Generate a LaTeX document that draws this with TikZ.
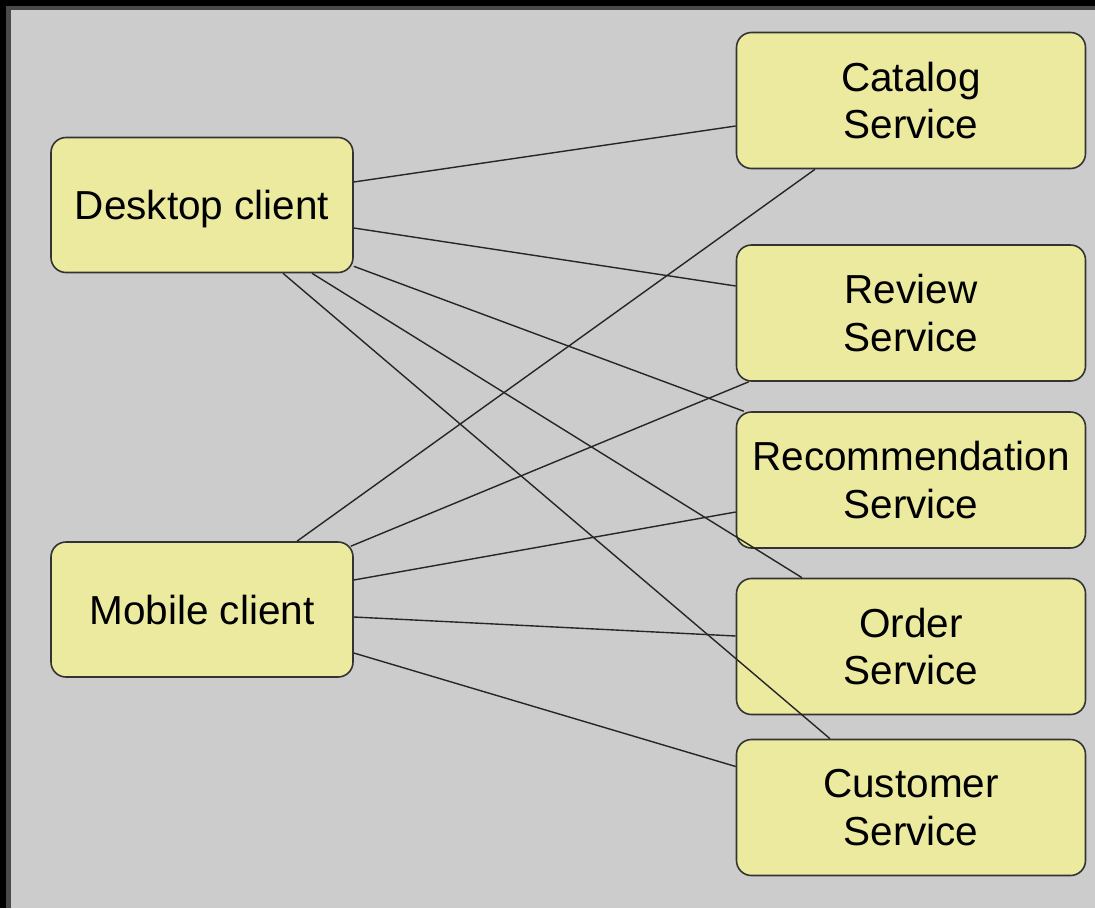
\documentclass[tikz,border=0pt]{standalone}
\usepackage{fontspec}
\setmainfont{Liberation Sans}
\begin{document}
\begin{tikzpicture}[x=1pt,y=-1pt,
  box/.style={draw=black!80, line width=1.6pt, fill=boxfill, rounded corners=15pt,
    align=center, inner sep=0pt,
    font=\fontsize{40.5}{47.5}\selectfont},
  client/.style={box, minimum width=302pt, minimum height=135pt,
    text height=29pt, text depth=0pt},
  service/.style={box, minimum width=349pt, minimum height=136pt},
  link/.style={draw=black!85, line width=1.4pt}]
\definecolor{boxfill}{HTML}{EBEA9E}
\definecolor{panel}{HTML}{CCCCCC}
\definecolor{rim}{HTML}{4A4A4A}
\useasboundingbox (0,0) rectangle (1095,908);
% window frame and panel
\fill[black] (0,0) rectangle (1095,908);
\fill[rim] (6,6) rectangle (1095,908);
\fill[panel] (11,10) rectangle (1095,908);

% clients
\node[client] (desk) at (202,205) {Desktop client};
\node[client] (mob)  at (202,609.5) {Mobile client};

% services
\node[service] (cat)  at (911,100.5) {Catalog\\Service};
\node[service] (rev)  at (911,313)   {Review\\Service};
\node[service] (rec)  at (911,480)   {Recommendation\\Service};
\node[service] (ord)  at (911,646.5) {Order\\Service};
\node[service] (cust) at (911,807.5) {Customer\\Service};

% desktop client links
\draw[link] ([yshift=23pt]desk.east) -- ([yshift=-25.5pt]cat.west);
\draw[link] ([yshift=-23pt]desk.east) -- ([yshift=27pt]rev.west);
\draw[link] ([yshift=7pt]desk.south east) -- ([xshift=8pt]rec.north west);
\draw[link] ([xshift=110pt]desk.south) -- ([xshift=-109pt]ord.north);
\draw[link] ([xshift=81pt]desk.south) -- ([xshift=-81pt]cust.north);

% mobile client links
\draw[link] ([xshift=95pt]mob.north) -- ([xshift=-96pt]cat.south);
\draw[link] ([xshift=-3pt,yshift=-5pt]mob.north east) -- ([xshift=13pt]rev.south west);
\draw[link] ([yshift=29.5pt]mob.east) -- ([yshift=-32pt]rec.west);
\draw[link] ([yshift=-7.5pt]mob.east) -- ([yshift=10.5pt]ord.west);
\draw[link] ([yshift=-43.5pt]mob.east) -- ([yshift=41pt]cust.west);
\end{tikzpicture}
\end{document}
